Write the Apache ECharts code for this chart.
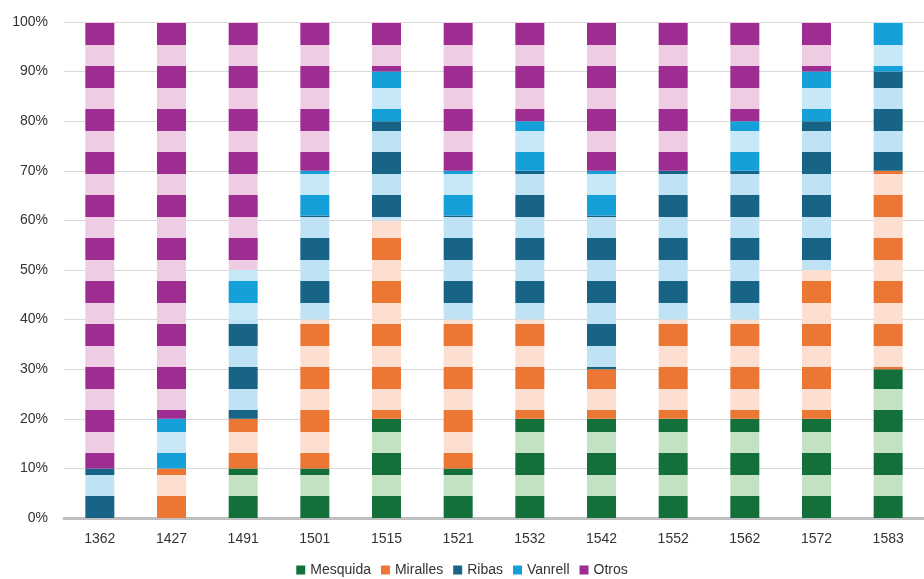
<!DOCTYPE html><html><head><meta charset="utf-8"><script src="https://cdn.jsdelivr.net/npm/echarts@6/dist/echarts.min.js"></script>
<style>body{margin:0}#c{width:924px;height:579px}</style></head><body><div id="c"></div><script>
const categories=['1362','1427','1491','1501','1515','1521','1532','1542','1552','1562','1572','1583'];
const mesquida=[0,0,10,10,20,10,20,20,20,20,20,30];
const miralles=[0,10,10,30,40,30,20,10,20,20,30,40];
const ribas=[10,0,20,21,20,21,30,31,30,30,30,20];
const vanrell=[0,10,10,9,10,9,10,9,0,10,10,10];
const otros=[90,80,50,30,10,30,20,30,30,20,10,0];
const names=['Mesquida','Miralles','Ribas','Vanrell','Otros'];
const darkC=['#14703a','#ec7634','#186486','#16a0da','#9d2d91'];
const lightC=['#c3e2c4','#fcdfd1','#bfe3f4','#c6e8f7','#eecde4'];
function pat(d,l){const c=document.createElement('canvas');c.width=4;c.height=43;const g=c.getContext('2d');g.fillStyle=l;g.fillRect(0,0,4,43);g.fillStyle=d;g.fillRect(0,23,4,20);g.fillRect(0,0,4,2);return c;}
const data=[mesquida,miralles,ribas,vanrell,otros];
const series=names.map((n,i)=>({name:n,type:'bar',stack:'s',barWidth:29,data:data[i],
 itemStyle:{color:{image:pat(darkC[i],lightC[i]),repeat:'repeat'}}}));
const ch=echarts.init(document.getElementById('c'));
ch.setOption({animation:false,
 grid:{left:64,right:-10,top:22,bottom:61},
 legend:{bottom:-3,itemWidth:9,itemHeight:9,itemGap:10,icon:'rect',textStyle:{fontFamily:'Arial',fontSize:14,color:'#333'},
  data:names.map((n,i)=>({name:n,itemStyle:{color:darkC[i]}}))},
 xAxis:{type:'category',data:categories,axisTick:{show:false},axisLine:{lineStyle:{color:'#bfbfbf',width:3}},
  axisLabel:{fontFamily:'Arial',fontSize:14,color:'#333',margin:14}},
 yAxis:{type:'value',min:0,max:100,interval:10,axisLabel:{formatter:'{value}%',fontFamily:'Arial',fontSize:14,color:'#333',margin:16},
  splitLine:{lineStyle:{color:'#d9d9d9',width:1}}},
 series});
</script></body></html>
